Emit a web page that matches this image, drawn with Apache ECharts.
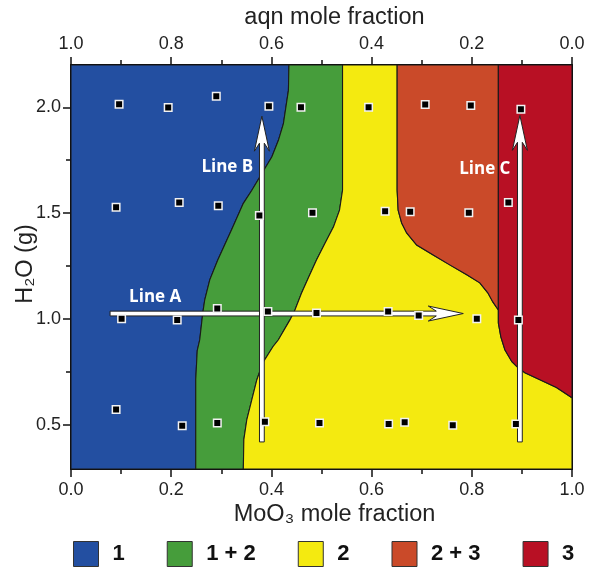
<!DOCTYPE html>
<html>
<head>
<meta charset="utf-8">
<script src="https://cdn.jsdelivr.net/npm/echarts@6/dist/echarts.min.js"></script>
<style>
html,body{margin:0;padding:0;background:#fff;}
#chart{width:589px;height:567px;}
</style>
</head>
<body>
<div id="chart"></div>
<script>
// ---------- data ----------
const regionNames = ['1', '1 + 2', '2', '2 + 3', '3'];
const regionColors = ['#234FA1', '#469D3B', '#F4EA10', '#CA4A29', '#B81024'];

const xMin = 0, xMax = 1, yMin = 0.29, yMax = 2.2;
const yMajorTicks = [0.5, 1.0, 1.5, 2.0];
const yMinorTicks = [0.75, 1.25, 1.75];

// phase boundaries (MoO3 mole fraction, H2O g)
const boundary12 = [[0.435,2.2],[0.434,2.08],[0.424,1.923],[0.414,1.844],[0.401,1.766],[0.381,1.687],[0.361,1.608],[0.344,1.546],[0.323,1.434],[0.293,1.278],[0.277,1.184],[0.267,1.09],[0.263,1.027],[0.257,0.901],[0.252,0.85],[0.249,0.712],[0.249,0.29]];
const boundary2 = [[0.542,2.2],[0.542,1.608],[0.536,1.514],[0.524,1.435],[0.507,1.357],[0.490,1.278],[0.475,1.200],[0.460,1.121],[0.447,1.042],[0.437,0.995],[0.414,0.901],[0.403,0.868],[0.383,0.792],[0.371,0.712],[0.361,0.618],[0.351,0.524],[0.345,0.429],[0.344,0.29]];
const boundary23 = [[0.651,2.2],[0.651,1.608],[0.653,1.514],[0.660,1.453],[0.670,1.406],[0.690,1.349],[0.723,1.302],[0.756,1.255],[0.790,1.208],[0.816,1.170],[0.832,1.123],[0.842,1.080],[0.853,1.042]];
const boundary3 = [[0.853,1.042],[0.853,0.981],[0.858,0.915],[0.866,0.854],[0.880,0.797],[0.890,0.774],[0.906,0.745],[0.936,0.712],[0.969,0.675],[1.0,0.627]];
const splitX = 0.853;

// sample points
const samplesX = [0.096,0.194,0.290,0.395,0.459,0.594,0.707,0.798,0.898,
                  0.090,0.216,0.294,0.376,0.482,0.627,0.677,0.794,0.873,
                  0.101,0.212,0.292,0.393,0.490,0.633,0.694,0.810,0.893,
                  0.090,0.222,0.292,0.387,0.496,0.634,0.666,0.762,0.888];
const samplesY = [2.014,1.999,2.052,2.005,2.000,2.000,2.013,2.009,1.991,
                  1.527,1.550,1.534,1.489,1.501,1.509,1.506,1.501,1.550,
                  1.000,0.994,1.049,1.035,1.028,1.035,1.016,1.000,0.994,
                  0.571,0.495,0.508,0.513,0.508,0.503,0.511,0.497,0.503];

// arrows
const arrowStart = [[0.078,1.025],[0.381,0.418],[0.896,0.418]];
const arrowEnd   = [[0.783,1.025],[0.381,1.958],[0.896,1.962]];
const lineLabels = ['Line A','Line B','Line C'];
const lineLabelX = [0.168,0.312,0.826];
const lineLabelY = [1.102,1.717,1.708];

// ---------- build ----------
const polys = [
  [[xMin,yMax], ...boundary12, [xMin,yMin]],
  [...boundary12, ...boundary2.slice().reverse()],
  [...boundary2, [xMax,yMin], ...boundary3.slice().reverse(), ...boundary23.slice().reverse()],
  [...boundary23, [splitX,yMax]],
  [[splitX,yMax], ...boundary3, [xMax,yMax]]
];

const chart = echarts.init(document.getElementById('chart'));
const FONT = '"Liberation Sans", Arial, sans-serif';
const axisCol = '#111';

const regionSeries = polys.map((poly, i) => ({
  type: 'custom',
  name: regionNames[i],
  coordinateSystem: 'cartesian2d',
  clip: true,
  itemStyle: {color: regionColors[i]},
  data: [[0.5, 1]],
  renderItem: function (params, api) {
    const pts = poly.map(p => api.coord(p));
    return {type: 'polygon', shape: {points: pts},
      style: {fill: regionColors[i], stroke: '#1a1a1a', lineWidth: 1.1}};
  },
  z: 1
}));

function arrowPts(p0, p1, w, L, J, H) {
  const dx = p1[0]-p0[0], dy = p1[1]-p0[1];
  const len = Math.sqrt(dx*dx+dy*dy);
  const ux = dx/len, uy = dy/len, nx = -uy, ny = ux;
  const P = (base, a, b) => [base[0]+ux*a+nx*b, base[1]+uy*a+ny*b];
  return [P(p0,0,w), P(p1,-J,w), P(p1,-L,H), p1, P(p1,-L,-H), P(p1,-J,-w), P(p0,0,-w)];
}

const arrowSeries = {
  type: 'custom',
  coordinateSystem: 'cartesian2d',
  data: arrowStart.map((s, i) => [s[0], s[1], arrowEnd[i][0], arrowEnd[i][1]]),
  renderItem: function (params, api) {
    const p0 = api.coord([api.value(0), api.value(1)]);
    const p1 = api.coord([api.value(2), api.value(3)]);
    return {type: 'polygon', shape: {points: arrowPts(p0, p1, 2.4, 35, 27, 7.5)},
      style: {fill: '#ffffff', stroke: '#222', lineWidth: 1}};
  },
  z: 3
};

const labelSeries = {
  type: 'custom',
  coordinateSystem: 'cartesian2d',
  data: lineLabels.map((t, i) => [lineLabelX[i], lineLabelY[i]]),
  renderItem: function (params, api) {
    const p = api.coord([api.value(0), api.value(1)]);
    return {type: 'text', x: p[0], y: p[1],
      style: {text: lineLabels[params.dataIndex], fill: '#ffffff', fontSize: 17, fontWeight: 'bold',
        fontFamily: '"Open Sans", sans-serif', align: 'center', verticalAlign: 'middle'}};
  },
  z: 4
};

const scatterSeries = {
  type: 'scatter',
  name: 'samples',
  symbol: 'rect',
  symbolSize: 7.5,
  itemStyle: {color: '#000', borderColor: '#f2f2f2', borderWidth: 1.5, opacity: 1},
  data: samplesX.map((x, i) => [x, samplesY[i]]),
  z: 5
};

const baseX = {
  type: 'value', min: xMin, max: xMax, interval: 0.2,
  nameMoveOverlap: false,
  axisLine: {show: true, onZero: false, lineStyle: {color: axisCol, width: 2}},
  axisTick: {show: true, length: 8, lineStyle: {color: axisCol, width: 1.5}},
  minorTick: {show: true, splitNumber: 2, length: 5, lineStyle: {color: axisCol, width: 1.5}},
  splitLine: {show: false}, minorSplitLine: {show: false},
  axisLabel: {fontSize: 18, color: '#222', fontFamily: FONT, margin: 12,
    formatter: v => v.toFixed(1)},
  nameLocation: 'middle',
  nameTextStyle: {fontSize: 23.5, color: '#222', fontFamily: FONT, padding: [0, 0, 0, 26]}
};

function yAx(pos, ticks, len, inside, labels, line) {
  return {
    type: 'value', position: pos, min: yMin, max: yMax,
    nameMoveOverlap: false,
    axisLine: {show: line, onZero: false, lineStyle: {color: axisCol, width: 2}},
    axisTick: {show: true, inside: inside, length: len, customValues: ticks, lineStyle: {color: axisCol, width: 1.5}},
    axisLabel: labels ? {show: true, customValues: ticks, fontSize: 18, color: '#222', fontFamily: FONT, margin: 10,
      formatter: v => v.toFixed(1)} : {show: false},
    splitLine: {show: false}
  };
}

const leftMain = yAx('left', yMajorTicks, 8, false, true, true);
leftMain.name = 'H\u2082O (g)';
leftMain.nameLocation = 'middle';
leftMain.nameGap = 33;
leftMain.nameTextStyle = {fontSize: 23.5, color: '#222', fontFamily: FONT, padding: [0, 0, 0, 6]};

const option = {
  animation: false,
  backgroundColor: '#ffffff',
  grid: {left: 71, right: 17, top: 65, bottom: 98, containLabel: false, outerBoundsMode: 'none'},
  legend: {
    data: regionNames, left: 73, top: 541, padding: 0,
    itemWidth: 25, itemHeight: 25, itemGap: 42, icon: 'rect',
    itemStyle: {borderColor: '#333', borderWidth: 1},
    textStyle: {fontSize: 22, fontWeight: 'bold', color: '#111', fontFamily: FONT, padding: [0, 0, 0, 9]}
  },
  xAxis: [
    Object.assign({}, baseX, {position: 'bottom', name: 'MoO\u2083 mole fraction', nameGap: 34}),
    Object.assign({}, baseX, {position: 'top', inverse: true, name: 'aqn mole fraction', nameGap: 35})
  ],
  yAxis: [
    leftMain,
    yAx('left', yMinorTicks, 5, false, false, false),
    yAx('right', yMajorTicks, 9, true, false, true),
    yAx('right', yMinorTicks, 5, true, false, false)
  ],
  series: [...regionSeries, arrowSeries, labelSeries, scatterSeries]
};
chart.setOption(option);
</script>
</body>
</html>
